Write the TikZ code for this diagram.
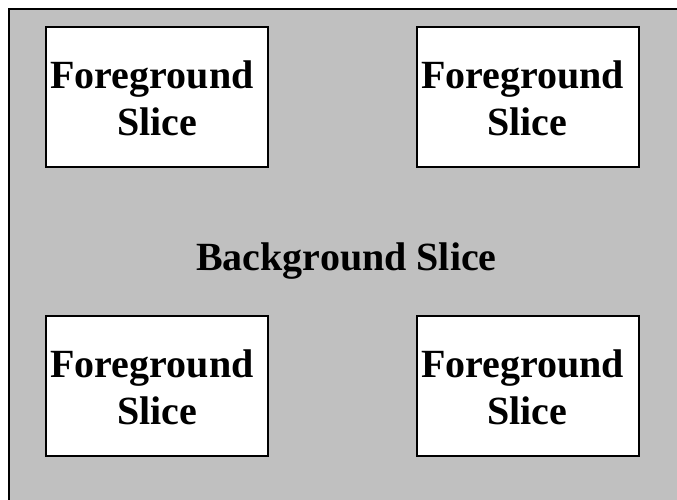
\documentclass[tikz,border=0pt]{standalone}
\usepackage{fontspec}
\setmainfont{Liberation Serif}
\definecolor{slicegray}{RGB}{192,192,192}
\begin{document}
\begin{tikzpicture}[x=1pt,y=-1pt,
  label text/.style={font=\fontsize{40}{47}\selectfont\bfseries, align=center},
  fgslice/.style={draw=black, fill=white, line width=2pt, inner sep=0pt,
    minimum width=222pt, minimum height=140pt},
  fgtext/.style={label text}]
  \useasboundingbox (0,0) rectangle (677,499);
  \clip (0,0) rectangle (677,499);
  % background slice, running past the right and bottom edges
  \fill[slicegray] (9,9) rectangle (690,510);
  \draw[line width=2pt] (9,510) -- (9,9) -- (690,9);
  \node[label text, anchor=base] (bg) at (346.5,270) {Background Slice};
  % foreground slices
  \node[fgslice] (fg1) at (157,97) {};
  \node[fgslice] (fg2) at (527.5,97) {};
  \node[fgslice] (fg3) at (157,386) {};
  \node[fgslice] (fg4) at (527.5,386) {};
  \node[fgtext] (t1) at ([yshift=-1.5pt]fg1.center) {Foreground\kern0.25em\\Slice};
  \node[fgtext] (t2) at ([yshift=-1.5pt]fg2.center) {Foreground\kern0.25em\\Slice};
  \node[fgtext] (t3) at ([yshift=-1.5pt]fg3.center) {Foreground\kern0.25em\\Slice};
  \node[fgtext] (t4) at ([yshift=-1.5pt]fg4.center) {Foreground\kern0.25em\\Slice};
\end{tikzpicture}
\end{document}
